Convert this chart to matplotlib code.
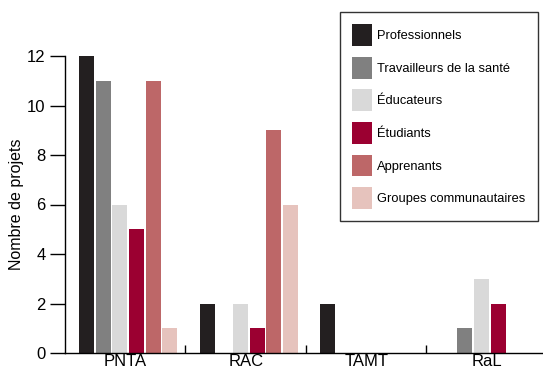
import numpy as np
import matplotlib
matplotlib.use("Agg")
import matplotlib.pyplot as plt
from matplotlib.patches import Patch

plt.rcParams["font.family"] = ["Liberation Sans", "DejaVu Sans"]

groups = ["PNTA", "RAC", "TAMT", "RaL"]
series = ["Professionnels", "Travailleurs de la santé", "Éducateurs",
          "Étudiants", "Apprenants", "Groupes communautaires"]
professionnels = [12, 2, 2, 0]
travailleurs = [11, 0, 0, 1]
educateurs = [6, 2, 0, 3]
etudiants = [5, 1, 0, 2]
apprenants = [11, 9, 0, 0]
communautaires = [1, 6, 0, 0]
colors = ["#231f20", "#808080", "#d9d9d9", "#9b0031", "#bd6768", "#e6c3bd"]

values = [professionnels, travailleurs, educateurs, etudiants, apprenants, communautaires]

fig = plt.figure(figsize=(5.43, 3.73), dpi=100)
ax = fig.add_axes([65 / 543, 20 / 373, 478 / 543, 297 / 373])

x = np.arange(len(groups))
step, width = 0.138, 0.125
for i, (vals, col) in enumerate(zip(values, colors)):
    ax.bar(x + (i - 2.5) * step + 0.025, vals, width=width, color=col, linewidth=0)

ax.set_xlim(-0.5, 3.467)
ax.set_ylim(0, 12)
ax.set_yticks(range(0, 13, 2))
ax.set_xticks(x)
ax.set_xticklabels(groups)
ax.set_xticks([0.5, 1.5, 2.5], minor=True)
ax.tick_params(axis="x", which="major", length=0, labelsize=12, pad=1)
ax.tick_params(axis="x", which="minor", direction="in", length=6, width=1)
ax.tick_params(axis="y", length=11, width=1, labelsize=12, pad=3)
ax.set_ylabel("Nombre de projets", fontsize=11.5, labelpad=2)
for s in ["top", "right"]:
    ax.spines[s].set_visible(False)
ax.spines["left"].set_linewidth(1)
ax.spines["bottom"].set_linewidth(1)

handles = [Patch(facecolor=c, edgecolor="none") for c in colors]
leg = fig.legend(handles, series, loc="upper left",
                 bbox_to_anchor=(340 / 543, 1 - 12 / 373), borderaxespad=0,
                 fontsize=9.3, handlelength=1.5, handleheight=2.2,
                 labelspacing=0.85, handletextpad=0.45, borderpad=0.95,
                 fancybox=False, framealpha=1)
leg.get_frame().set_edgecolor("#333333")
leg.get_frame().set_linewidth(1)

fig.savefig("out.png", dpi=100)
